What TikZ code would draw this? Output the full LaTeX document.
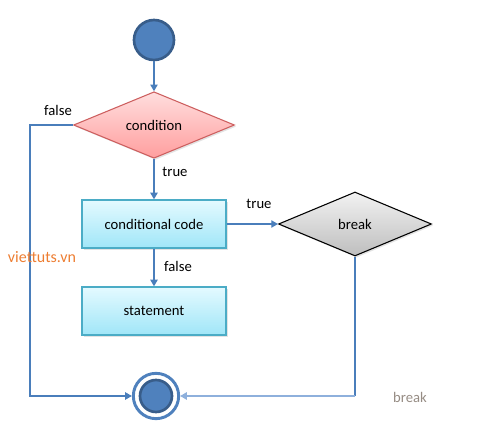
\documentclass[tikz,border=0pt]{standalone}
\usepackage{fontspec}
\setmainfont{Carlito}
\usetikzlibrary{shapes.geometric,arrows.meta,shadows}
\definecolor{lineblue}{RGB}{74,126,187}
\definecolor{lightline}{RGB}{142,176,220}
\definecolor{circfill}{RGB}{79,129,189}
\definecolor{circdraw}{RGB}{56,93,138}
\definecolor{condtop}{RGB}{255,222,222}
\definecolor{condbot}{RGB}{255,158,158}
\definecolor{conddraw}{RGB}{205,95,95}
\definecolor{boxtop}{RGB}{228,250,255}
\definecolor{boxbot}{RGB}{160,230,248}
\definecolor{boxdraw}{RGB}{75,172,198}
\definecolor{brktop}{RGB}{242,242,242}
\definecolor{brkbot}{RGB}{190,190,190}
\definecolor{wmark}{RGB}{237,125,49}
\definecolor{graytxt}{RGB}{150,140,132}
\tikzset{
  conn/.style={draw=lineblue, line width=1pt, -{Triangle[length=5pt,width=5.5pt]}},
  plainconn/.style={draw=lineblue, line width=1pt},
  shd/.style={drop shadow={opacity=0.22, shadow xshift=1.2pt, shadow yshift=-1.2pt}},
  condshape/.style={shape=diamond, inner sep=0pt, minimum width=120.75pt, minimum height=46.5pt,
    top color=condtop, bottom color=condbot, draw=conddraw, line width=0.8pt, shd},
  brkshape/.style={shape=diamond, inner sep=0pt, minimum width=114.75pt, minimum height=48pt,
    top color=brktop, bottom color=brkbot, draw=black, line width=0.8pt, shd},
  boxshape/.style={shape=rectangle, inner sep=0pt, minimum width=108pt, minimum height=36pt,
    top color=boxtop, bottom color=boxbot, draw=boxdraw, line width=1pt, shd},
  lbl/.style={font=\fontsize{11pt}{13pt}\selectfont, text=black, inner sep=0pt},
}
\begin{document}
\begin{tikzpicture}[x=0.75pt, y=-0.75pt]
\useasboundingbox (0,0) rectangle (490,428);
% start
\node[circle, minimum size=30pt, inner sep=0pt, fill=circfill, draw=circdraw, line width=2pt] (start) at (154,40) {};
% condition
\node[condshape, lbl] (cond) at (154,125) {condition};
% conditional code
\node[boxshape, lbl] (code) at (154,224) {conditional code};
% statement
\node[boxshape, lbl] (stmt) at (154,311) {statement};
% break
\node[brkshape, lbl] (brk) at (355,224) {break};
% end
\node[circle, minimum size=34pt, inner sep=0pt, draw=circfill, line width=2.2pt, fill=white] (end) at (156,396) {};
\node[circle, minimum size=24pt, inner sep=0pt, fill=circfill, draw=circdraw, line width=2pt] (endin) at (156,396) {};
% corner coordinates
\coordinate (c1) at (30,125);
\coordinate (c2) at (30,396);
\coordinate (c3) at (355,396);
% connectors
\draw[conn] (start) -- (cond.north);
\draw[conn] (cond.south) -- (code.north);
\draw[conn] (code.south) -- (stmt.north);
\draw[conn] (code.east) -- (brk.west);
\draw[conn] (cond.west) -- (c1) -- (c2) -- (end.west);
\draw[plainconn] (brk.south) -- (c3);
\draw[draw=lightline, line width=1.2pt, -{Triangle[length=5pt,width=5.5pt]}] (c3) -- (end.east);
% labels
\node[lbl] (lfalse1) at (58,110) {false};
\node[lbl] (ltrue1) at (175,172) {true};
\node[lbl] (ltrue2) at (259,204) {true};
\node[lbl] (lfalse2) at (178,266) {false};
\node[lbl, text=wmark, font=\fontsize{12pt}{14pt}\selectfont] (wm) at (42,257) {viettuts.vn};
\node[lbl, text=graytxt] (lbrk) at (410,397) {break};
\end{tikzpicture}
\end{document}
